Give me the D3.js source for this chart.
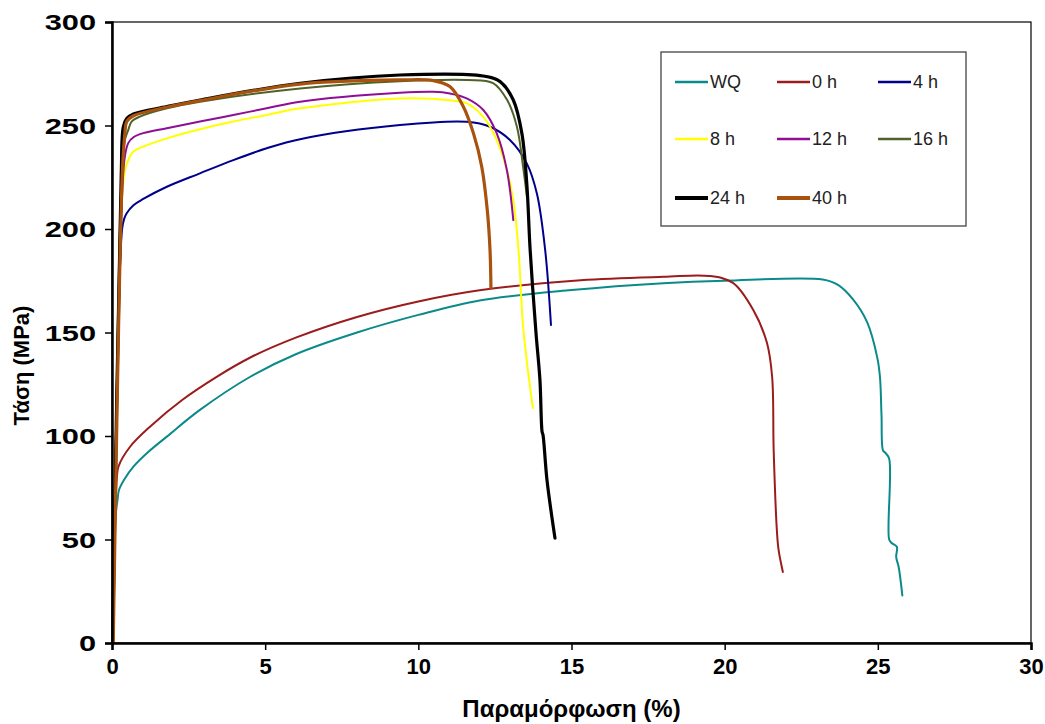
<!DOCTYPE html>
<html>
<head>
<meta charset="utf-8">
<script src="https://cdn.jsdelivr.net/npm/d3@7"></script>
<style>
  body { margin: 0; background: #fff; }
  svg text { font-family: "Liberation Sans", Arial, sans-serif; }
</style>
</head>
<body>
<div id="chart"></div>
<script>
// stress-strain curves, values
const seriesNames = ["WQ", "0 h", "4 h", "8 h", "12 h", "16 h", "24 h", "40 h"];
const seriesColors = ["#0b8a8a", "#9b1c1c", "#00008b", "#ffff00", "#8e0e95", "#4f6228", "#000000", "#a8520e"];
const seriesWidths = [2, 2, 2, 2, 2, 2, 3.2, 3.2];

const wq = [[0.02,0],[0.11,60],[0.18,69],[0.23,74],[0.4,79],[0.7,85.2],[1.2,92.5],[1.79,99.7],[2.87,112.6],[4.5,128.5],[6,139.5],[8,150],[10,158.5],[12,165.5],[15,170.5],[18,173.8],[20,175],[23.2,175.6],[23.7,173],[24.19,166],[24.65,155],[24.98,138],[25.07,128.5],[25.12,110],[25.17,93],[25.24,92],[25.37,89],[25.37,50],[25.45,48.3],[25.62,46.5],[25.6,41.5],[25.68,36.7],[25.8,23]];
const h0 = [[0.02,0],[0.12,70],[0.16,80],[0.21,85.2],[0.59,94.8],[1.24,104.5],[2.29,117.4],[3.43,128.7],[4.5,137.8],[6,147.5],[8,157.5],[10,165],[12,170.4],[15.3,175.3],[18,176.9],[19.5,177.3],[20.27,174],[20.93,161],[21.38,145],[21.55,128.5],[21.6,93],[21.71,53],[21.76,45],[21.9,34.3]];
const h4 = [[0.03,0],[0.33,200],[0.4,205],[0.48,207.6],[0.7,211.5],[1.02,214.5],[1.79,220.4],[2.87,226.9],[3.96,233.3],[5.05,239],[6.14,243.4],[9.4,250.2],[11.58,251.8],[12.34,249.4],[12.99,243],[13.54,231.7],[13.87,217.1],[14.14,189.9],[14.33,153.6]];
const h8 = [[0.03,0],[0.33,215],[0.42,228],[0.53,233.3],[0.7,237.4],[1.02,239.8],[1.79,243.8],[2.87,248.2],[3.96,251.9],[5.05,255.1],[6.14,258.3],[9.4,263],[11.03,262.2],[11.58,260.7],[12.12,254.2],[12.56,243],[12.89,228.5],[13.1,214],[13.27,189.9],[13.43,151.2],[13.74,113.5]];
const h12 = [[0.03,0],[0.34,220],[0.42,235],[0.53,241.5],[0.7,244.3],[1.02,246.3],[1.79,248.7],[2.87,251.9],[3.96,255.1],[5.05,258.3],[6.14,261.5],[9.4,265.8],[10.49,266.3],[11.03,265.5],[11.58,263.1],[12.12,257.5],[12.56,246.2],[12.89,228.5],[13.1,204.3]];
const h16 = [[0.03,0],[0.33,230],[0.42,243],[0.53,247.8],[0.64,251.9],[0.91,254.3],[1.79,258.3],[2.87,261.5],[6.14,267.9],[9.4,271.4],[11.6,272],[12.44,270.5],[12.9,262.3],[13.22,249.3],[13.42,230],[13.55,215]];
const h24 = [[0.02,0],[0.3,225],[0.37,249.4],[0.48,253.4],[0.7,255.6],[1.79,259.1],[2.87,262.3],[6.14,270.4],[9.4,274.4],[12.12,273.9],[12.67,271.2],[13.1,262.3],[13.38,246.2],[13.54,222],[13.65,189.9],[13.84,150],[13.97,127],[14.04,102],[14.07,100.5],[14.2,78.7],[14.46,50.7]];
const h40 = [[0.04,0],[0.34,228],[0.42,246],[0.48,251.8],[0.7,254.7],[1.79,258.8],[2.87,262],[6.14,270],[9.4,272],[10.49,271.7],[11.03,268.8],[11.47,259.1],[11.8,246.2],[12.07,230.1],[12.25,209.2],[12.34,189.9],[12.37,171.5]];
const seriesData = [wq, h0, h4, h8, h12, h16, h24, h40];

const xTicks = [0, 5, 10, 15, 20, 25, 30];
const yTicks = [0, 50, 100, 150, 200, 250, 300];

const width = 1045, height = 724;
const mLeft = 112, mRight = 1031, mTop = 22, mBottom = 643;

const svg = d3.select("#chart").append("svg")
    .attr("width", width)
    .attr("height", height);

const x = d3.scaleLinear().domain([0, 30]).range([mLeft, mRight]);
const y = d3.scaleLinear().domain([0, 300]).range([mBottom, mTop]);

// frame (top/right thin)
svg.append("rect")
    .attr("x", mLeft).attr("y", mTop)
    .attr("width", mRight - mLeft).attr("height", mBottom - mTop)
    .attr("fill", "none").attr("stroke", "#000").attr("stroke-width", 1.2);

// curves
const line = d3.line()
    .x(d => x(d[0]))
    .y(d => y(d[1]))
    .curve(d3.curveCatmullRom.alpha(0.5));

svg.append("g").selectAll("path")
    .data(seriesData)
    .join("path")
    .attr("d", line)
    .attr("fill", "none")
    .attr("stroke", (d, i) => seriesColors[i])
    .attr("stroke-width", (d, i) => seriesWidths[i])
    .attr("stroke-linejoin", "round")
    .attr("stroke-linecap", "round");

// axes
const xAxis = svg.append("g")
    .attr("transform", `translate(0,${mBottom})`)
    .call(d3.axisBottom(x).tickValues(xTicks).tickSize(7).tickPadding(8));
const yAxis = svg.append("g")
    .attr("transform", `translate(${mLeft},0)`)
    .call(d3.axisLeft(y).tickValues(yTicks).tickSize(7).tickPadding(10));

[xAxis, yAxis].forEach(g => {
    g.select(".domain").attr("stroke", "#000").attr("stroke-width", 2.5);
    g.selectAll(".tick line").attr("stroke", "#000").attr("stroke-width", 1.5);
    g.selectAll(".tick text")
        .attr("font-family", "'Liberation Sans', Arial, sans-serif")
        .attr("font-weight", "bold")
        .attr("font-size", 22)
        .attr("fill", "#000");
});
// y tick labels in the original look stretched sideways
yAxis.selectAll(".tick text")
    .attr("transform", "scale(1.4,1)")
    .attr("x", -16 / 1.4)
    .attr("dy", "0.35em");

// axis titles
svg.append("text")
    .attr("x", (mLeft + mRight) / 2)
    .attr("y", 717)
    .attr("text-anchor", "middle")
    .attr("font-weight", "bold")
    .attr("font-size", 24)
    .text("Παραμόρφωση (%)");

svg.append("text")
    .attr("transform", `translate(29,${(mTop + mBottom) / 2 + 33}) rotate(-90)`)
    .attr("text-anchor", "middle")
    .attr("font-weight", "bold")
    .attr("font-size", 22)
    .text("Τάση (MPa)");

// legend
const legend = svg.append("g");
legend.append("rect")
    .attr("x", 661).attr("y", 52)
    .attr("width", 305).attr("height", 174)
    .attr("fill", "#fff").attr("stroke", "#444").attr("stroke-width", 1.3);

const colX = [675, 777, 878];
const rowY = [82, 139, 198];
const items = legend.selectAll("g.item")
    .data(seriesNames)
    .join("g")
    .attr("class", "item")
    .attr("transform", (d, i) => `translate(${colX[i % 3]},${rowY[Math.floor(i / 3)]})`);

items.append("line")
    .attr("x1", 0).attr("x2", 33)
    .attr("stroke", (d, i) => seriesColors[i])
    .attr("stroke-width", (d, i) => i >= 6 ? 4 : 2.6);

items.append("text")
    .attr("x", 35)
    .attr("dy", "0.35em")
    .attr("font-size", 18)
    .attr("fill", "#222")
    .text(d => d);
</script>
</body>
</html>
